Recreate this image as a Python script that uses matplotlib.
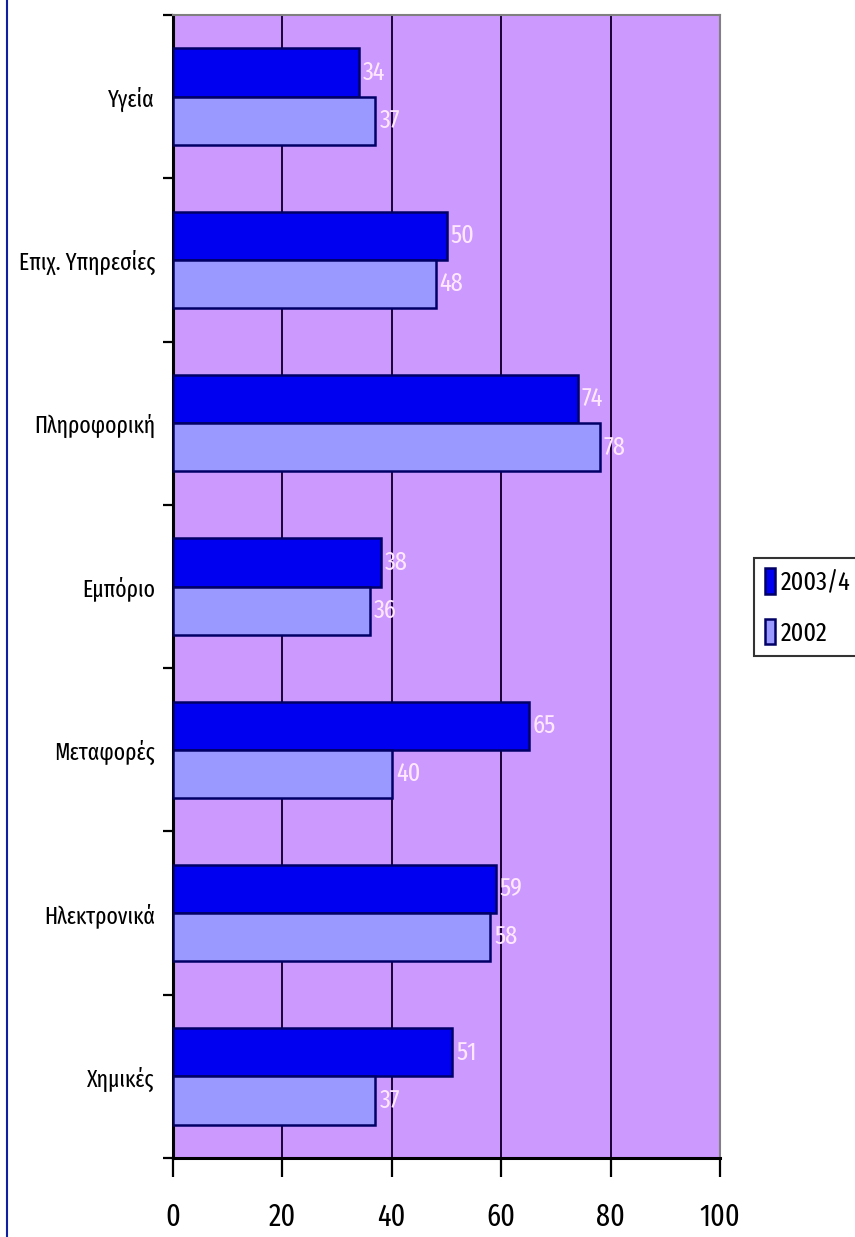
import numpy as np
import matplotlib
matplotlib.use('Agg')
import matplotlib.pyplot as plt
from matplotlib.lines import Line2D

plt.rcParams['font.family'] = ['Fira Sans Extra Condensed', 'DejaVu Sans']

# Κατηγορίες (από κάτω προς τα πάνω) και τιμές
categories = ['Χημικές', 'Ηλεκτρονικά', 'Μεταφορές', 'Εμπόριο',
              'Πληροφορική', 'Επιχ. Υπηρεσίες', 'Υγεία']
vals_2003 = [51, 59, 65, 38, 74, 50, 34]
vals_2002 = [37, 58, 40, 36, 78, 48, 37]
series_names = ['2003/4', '2002']
xticks = [0, 20, 40, 60, 80, 100]

fig = plt.figure(figsize=(8.55, 12.37), dpi=100)
ax = fig.add_axes([173/855, 1 - 1158/1237, (720-173)/855, (1158-15)/1237])
ax.set_facecolor('#CC99FF')

y = np.arange(len(categories))
h = 0.295
b1 = ax.barh(y + h/2, vals_2003, height=h, color='#0000F0', edgecolor='#000066',
             linewidth=1.8, label=series_names[0], zorder=3)
b2 = ax.barh(y - h/2, vals_2002, height=h, color='#9999FF', edgecolor='#000066',
             linewidth=1.8, label=series_names[1], zorder=3)

# Ετικέτες τιμών
for bars in (b1, b2):
    ax.bar_label(bars, padding=3, color='#FFE8FF', fontsize=19)

ax.set_xlim(0, 100)
ax.set_ylim(-0.5, len(categories) - 0.5)
ax.set_xticks(xticks)
ax.xaxis.grid(True, color='#1a0033', linewidth=1.4, zorder=1)
ax.tick_params(axis='x', labelsize=22, length=14, width=1.6, direction='out', pad=18)

ax.set_yticks(y)
ax.set_yticklabels(categories, fontsize=17)
ax.set_yticks(np.arange(len(categories) + 1) - 0.5, minor=True)
ax.tick_params(axis='y', which='major', length=0, pad=13)
ax.tick_params(axis='y', which='minor', length=7, width=1.6, direction='out')

for side in ('left', 'bottom'):
    ax.spines[side].set_color('#000000')
    ax.spines[side].set_linewidth(2.2)
for side in ('top', 'right'):
    ax.spines[side].set_color('#808080')
    ax.spines[side].set_linewidth(1.5)

# Υπόμνημα
leg = fig.legend(handles=[b1, b2], labels=series_names,
                 loc='center left', bbox_to_anchor=(754/855, 1 - 607/1237),
                 fontsize=19, frameon=True, fancybox=False, shadow=False,
                 handlelength=0.4, handleheight=1.1, handletextpad=0.2,
                 borderpad=0.4, labelspacing=0.9, borderaxespad=0)
leg.get_frame().set_edgecolor('#000000')
leg.get_frame().set_linewidth(1.5)

# Μπλε περίγραμμα στην αριστερή άκρη
fig.add_artist(Line2D([7/855, 7/855], [0, 1], color='#1020A0', linewidth=1.5))

fig.savefig('out.png', dpi=100, facecolor='white')
